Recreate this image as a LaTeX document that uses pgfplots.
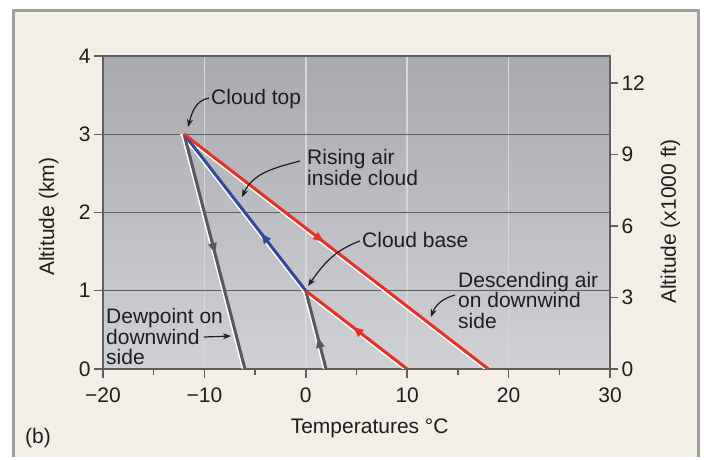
\documentclass[border=0pt]{standalone}
\usepackage{fontspec}
\setmainfont{Liberation Sans}
\usepackage{pgfplots}
\pgfplotsset{compat=1.18}
\usetikzlibrary{arrows.meta,decorations.markings}
\definecolor{cream}{RGB}{243,239,230}
\definecolor{framegray}{RGB}{160,158,154}
\definecolor{bgtop}{RGB}{168,170,176}
\definecolor{bgbot}{RGB}{208,209,213}
\definecolor{axgray}{RGB}{95,95,98}
\definecolor{vgrid}{RGB}{214,215,219}
\definecolor{redl}{RGB}{232,48,38}
\definecolor{bluel}{RGB}{52,72,160}
\definecolor{grayl}{RGB}{88,88,94}
\definecolor{txt}{RGB}{30,30,30}
\newcommand{\fs}{\fontsize{21}{25}\selectfont}
\tikzset{
  midarrow/.style={postaction={decorate}, decoration={markings, mark=at position #1 with {\arrow{Triangle[length=11pt,width=8pt]}}}},
  annarrow/.style={txt, line width=1.2pt, -{Stealth[length=8pt,width=6pt]}},
  anntext/.style={anchor=base west, inner sep=0pt, text=txt, font=\fs},
}
\begin{document}
\begin{tikzpicture}[x=1pt,y=1pt]
\fill[white] (0,0) rectangle (704,460);
\fill[cream] (12,3) rectangle (700,451);
\draw[framegray, line width=3pt] (13.5,3) -- (13.5,449.5) -- (698.5,449.5) -- (698.5,3);
\begin{axis}[
  at={(103pt,91pt)}, anchor=south west, scale only axis,
  width=507pt, height=313pt,
  xmin=-20, xmax=30, ymin=0, ymax=4,
  xtick={-20,-10,0,10,20,30}, xticklabels={−20,−10,0,10,20,30},
  minor xtick={-15,-5,5,15,25},
  ytick={0,1,2,3,4}, yticklabels={0,1,2,3,4},
  xtick pos=bottom, ytick pos=left,
  tick align=outside,
  major tick length=9pt, minor tick length=6pt,
  every tick/.style={axgray, line width=1.5pt},
  axis line style={axgray, line width=1.8pt},
  xmajorgrids, ymajorgrids,
  major x grid style={vgrid, line width=1.5pt},
  major y grid style={axgray, line width=1.5pt},
  axis background/.style={top color=bgtop, bottom color=bgbot},
  ticklabel style={font=\fs, text=txt},
  xticklabel style={yshift=-6pt},
  xlabel={Temperatures °C}, ylabel={Altitude (km)},
  every axis x label/.style={at={(axis description cs:0.526,-0.2045)}, anchor=base, font=\fs, text=txt},
  every axis y label/.style={at={(axis description cs:-0.0966,0.486)}, anchor=base, rotate=90, font=\fs, text=txt},
]
% white highlights
\addplot[white, line width=1.6pt] coordinates {(-12.36,3) (17.64,0)};
\addplot[white, line width=1.6pt] coordinates {(-0.28,1) (-12.28,3)};
\addplot[white, line width=1.6pt] coordinates {(9.64,0) (-0.36,1)};
\addplot[white, line width=1.6pt] coordinates {(-12.23,3) (-6.23,0)};
\addplot[white, line width=1.6pt] coordinates {(1.77,0) (-0.23,1)};
% dewpoint lines
\addplot[grayl, line width=3pt, midarrow=0.51] coordinates {(-12,3) (-6,0)};
\addplot[grayl, line width=3pt, midarrow=0.41] coordinates {(2,0) (0,1)};
% lower red (dry rising below cloud)
\addplot[redl, line width=3pt, midarrow=0.54] coordinates {(10,0) (0,1)};
% blue rising inside cloud
\addplot[bluel, line width=3pt, midarrow=0.37] coordinates {(0,1) (-12,3)};
% descending air
\addplot[redl, line width=3pt, midarrow=0.46] coordinates {(-12,3) (18,0)};
\end{axis}
\begin{axis}[
  at={(103pt,91pt)}, anchor=south west, scale only axis,
  width=507pt, height=313pt,
  xmin=-20, xmax=30, ymin=0, ymax=13.1234,
  hide x axis, axis y line*=right,
  ytick={0,3,6,9,12}, yticklabels={0,3,6,9,12},
  tick align=outside, major tick length=8pt,
  every tick/.style={axgray, line width=1.5pt},
  axis line style={axgray, line width=1.8pt},
  ticklabel style={font=\fs, text=txt},
  ylabel={Altitude (x1000 ft)},
  every axis y label/.style={at={(axis description cs:1.130,0.471)}, anchor=base, rotate=90, font=\fs, text=txt},
]
\addplot[draw=none] coordinates {(0,0)};
\end{axis}
% annotations
\node[anntext] at (211,355) {Cloud top};
\draw[annarrow] (209,362) to[out=190,in=75] (188,333);
\node[anntext] at (307,295) {Rising air};
\node[anntext] at (307,274) {inside cloud};
\draw[annarrow] (300,299) to[out=195,in=65] (242,263);
\node[anntext] at (362,212) {Cloud base};
\draw[annarrow] (360,219) to[out=200,in=55] (308,174);
\node[anntext] at (458,172) {Descending air};
\node[anntext] at (458,152) {on downwind};
\node[anntext] at (458,131) {side};
\draw[annarrow] (455,165) to[out=195,in=70] (431,143);
\node[anntext] at (106,136) {Dewpoint on};
\node[anntext] at (106,115) {downwind};
\node[anntext] at (106,95) {side};
\draw[annarrow] (204,123) -- (231,124);
\node[anntext] at (25,16) {(b)};
\end{tikzpicture}
\end{document}
